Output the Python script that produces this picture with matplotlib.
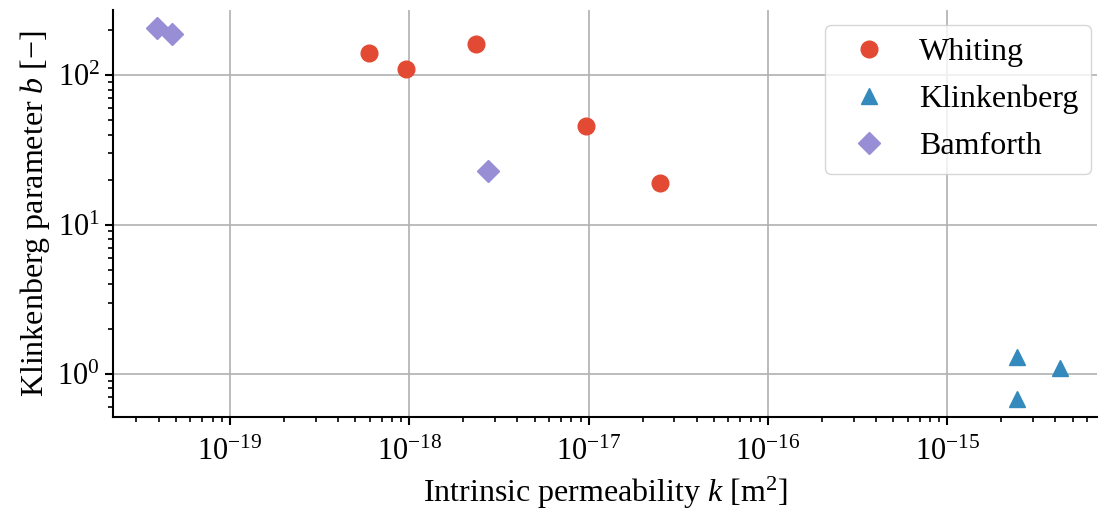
import matplotlib
matplotlib.use("Agg")
import matplotlib.pyplot as plt
from matplotlib.ticker import NullFormatter

plt.rcParams['font.family'] = ['Liberation Serif', 'DejaVu Serif']
plt.rcParams['mathtext.fontset'] = 'custom'
plt.rcParams['mathtext.rm'] = 'Liberation Serif'
plt.rcParams['mathtext.it'] = 'Liberation Serif:italic'
plt.rcParams['mathtext.bf'] = 'Liberation Serif:bold'
plt.rcParams['font.size'] = 23

# Whiting
whiting_k = [5.98e-19, 9.6e-19, 2.36e-18, 9.6e-18, 2.49e-17]
whiting_b = [140, 110, 161, 45.6, 19.0]
# Klinkenberg
klink_k = [2.45e-15, 2.45e-15, 4.26e-15]
klink_b = [1.30, 0.68, 1.10]
# Bamforth
bamf_k = [3.92e-20, 4.75e-20, 2.75e-18]
bamf_b = [206, 188, 22.8]

fig, ax = plt.subplots(figsize=(10.99, 5.16), dpi=100)
fig.subplots_adjust(left=0.103, right=0.998, top=0.98, bottom=0.192)

ax.plot(whiting_k, whiting_b, 'o', color='#E24A33', markersize=12, label='Whiting', zorder=3)
ax.plot(klink_k, klink_b, '^', color='#348ABD', markersize=12, label='Klinkenberg', zorder=3)
ax.plot(bamf_k, bamf_b, 'D', color='#988ED5', markersize=11, label='Bamforth', zorder=3)

ax.set_xscale('log')
ax.set_yscale('log')
ax.set_xlim(2.23e-20, 6.8e-15)
ax.set_ylim(0.515, 272)
ax.xaxis.set_minor_formatter(NullFormatter())
ax.yaxis.set_minor_formatter(NullFormatter())

ax.grid(True, which='major', color='#b0b0b0', linewidth=1.2)
ax.set_axisbelow(True)
ax.spines['top'].set_visible(False)
ax.spines['right'].set_visible(False)
ax.spines['left'].set_linewidth(1.5)
ax.spines['bottom'].set_linewidth(1.5)
ax.tick_params(which='major', length=6, width=1.5, labelsize=22)
ax.tick_params(which='minor', length=3.5, width=1.2)
ax.tick_params(axis='x', which='major', pad=9)

ax.set_xlabel(r'Intrinsic permeability $k$ [m$^2$]', fontsize=23, labelpad=6)
ax.set_ylabel(r'Klinkenberg parameter $b$ [$-$]', fontsize=23)

ax.legend(loc='upper right', handletextpad=0.55, borderpad=0.4, labelspacing=0.55,
          framealpha=0.8, edgecolor='#cccccc', fontsize=23, borderaxespad=0,
          bbox_to_anchor=(0.9927, 0.9516), bbox_transform=fig.transFigure)

fig.savefig('out.png', dpi=100)
